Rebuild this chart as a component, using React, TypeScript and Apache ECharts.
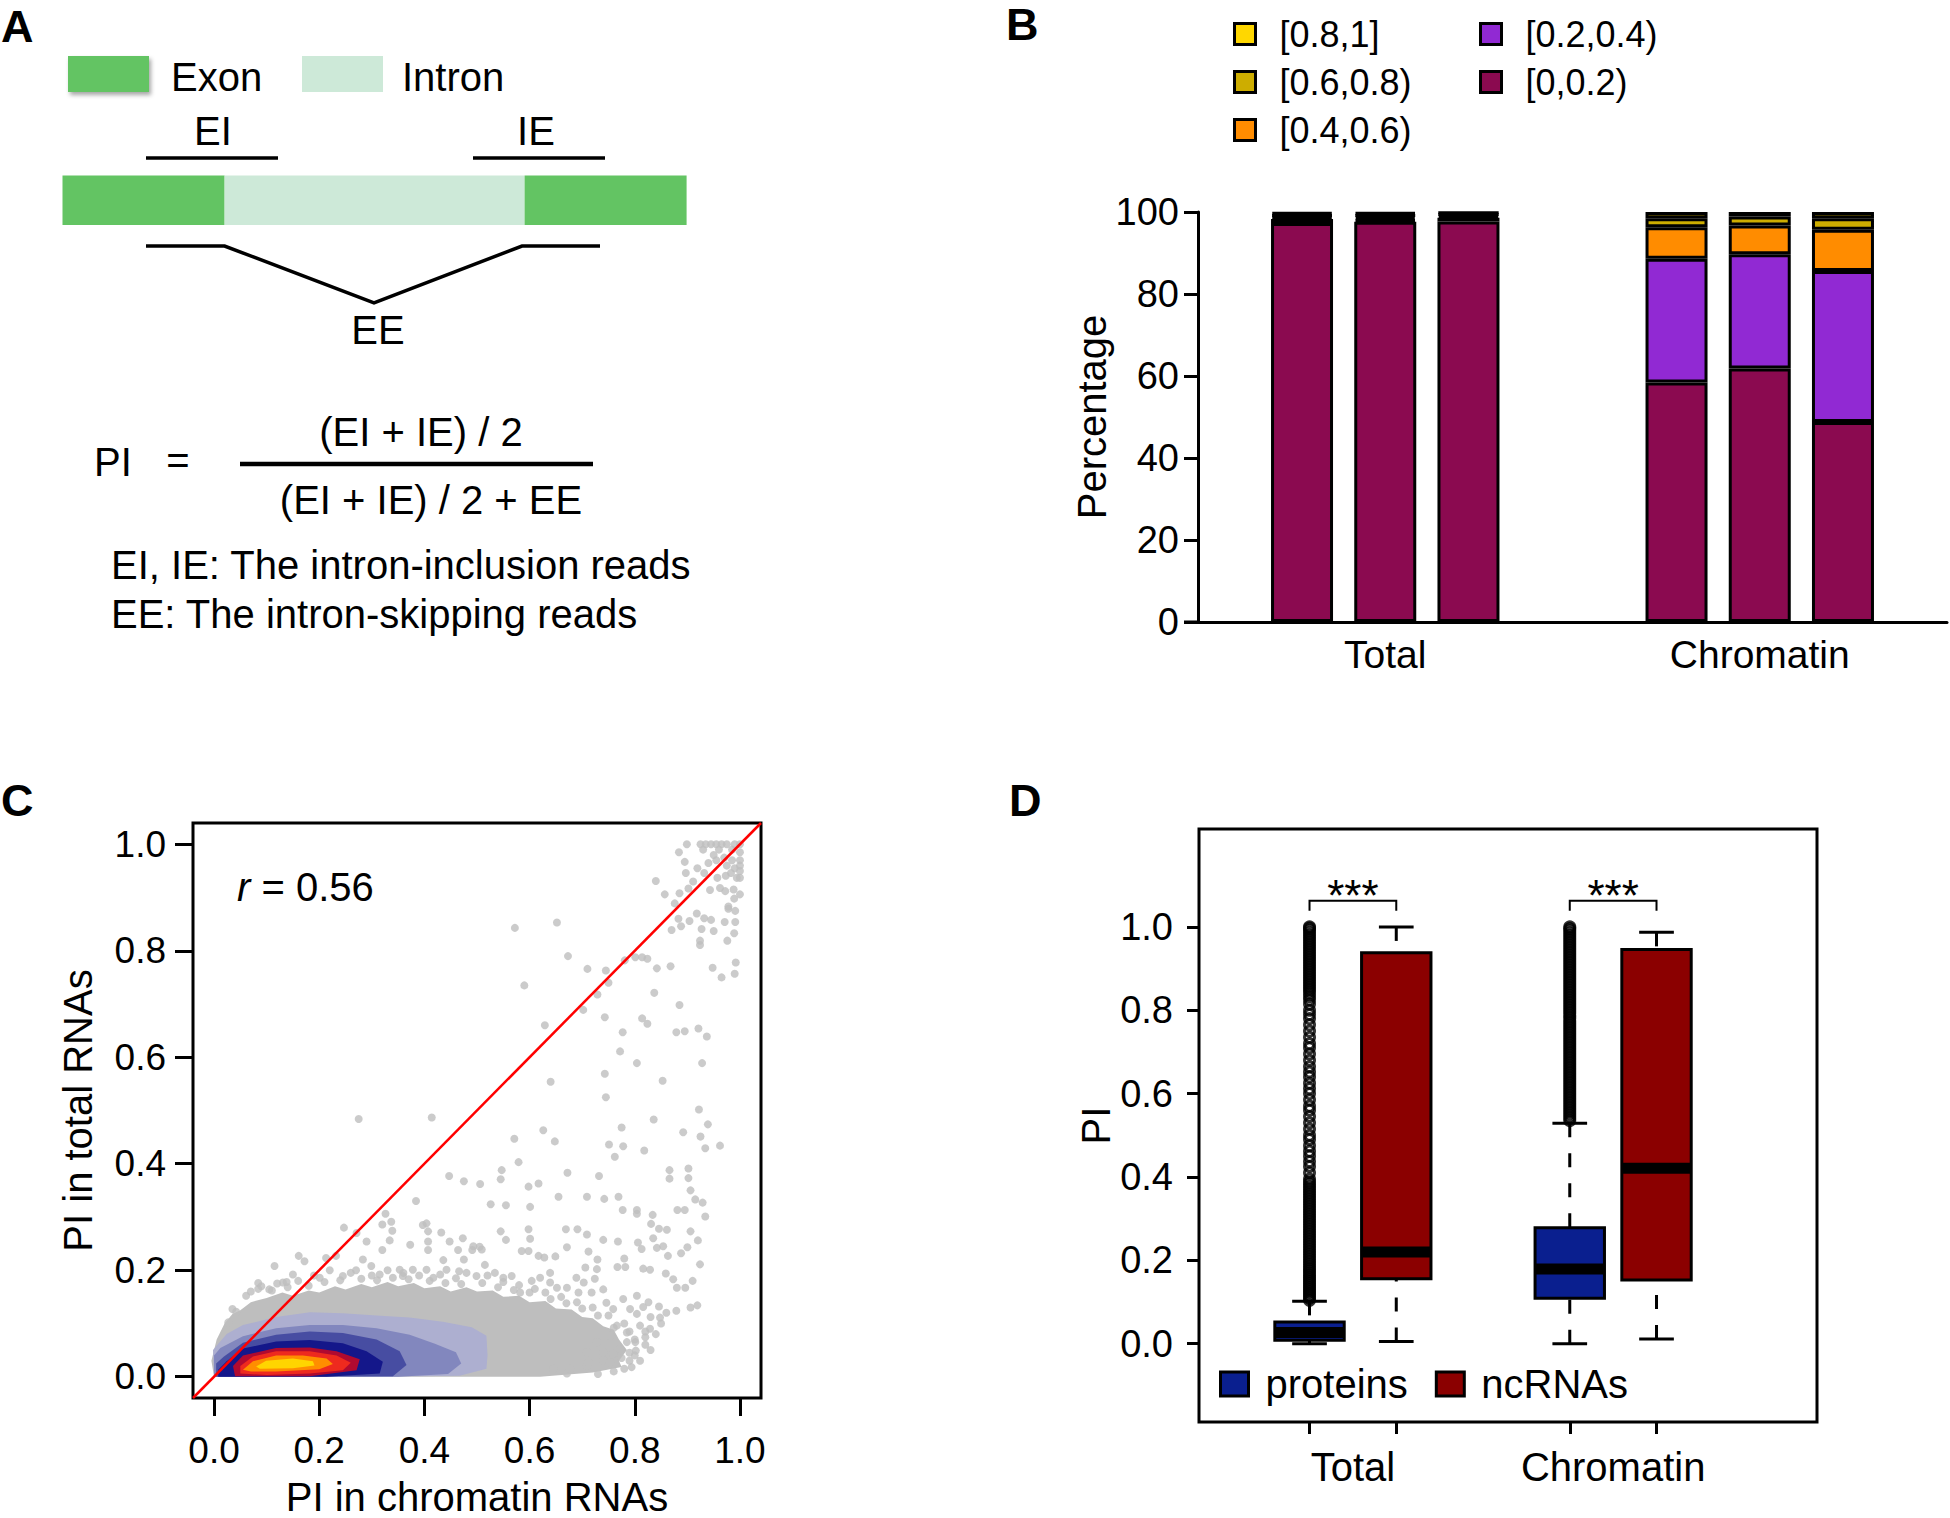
import React, { useEffect, useRef } from 'react';
import * as echarts from 'echarts';

const FONT = "'Liberation Sans', Arial, Helvetica, sans-serif";

// ---------------- Panel B data ----------------
const binNames = ['[0,0.2)', '[0.2,0.4)', '[0.4,0.6)', '[0.6,0.8)', '[0.8,1]'];
// bar slots on a fine category axis (Total x3, gap, Chromatin x3)
const barSlots = [5, 9, 13, 23, 27, 31];
const slotCountB = 37;
const groupNamesB = ['Total', 'Chromatin'];
const groupLabelSlotsB = [9, 27];
const bin00_02 = [97.3, 97.6, 97.7, 58.4, 61.8, 48.8];
const bin02_04 = [1.0, 0.6, 0.9, 30.2, 27.9, 36.8];
const bin04_06 = [0.6, 0.7, 0.6, 7.7, 7.0, 10.1];
const bin06_08 = [0.5, 0.5, 0.4, 2.2, 2.2, 2.8];
const bin08_10 = [0.6, 0.6, 0.4, 1.5, 1.1, 1.5];
const binValues = [bin00_02, bin02_04, bin04_06, bin06_08, bin08_10];
const legendCol1 = ['[0.8,1]', '[0.6,0.8)', '[0.4,0.6)'];
const legendCol2 = ['[0.2,0.4)', '[0,0.2)'];

// ---------------- Panel C data ----------------
const unitTicks = [0, 0.2, 0.4, 0.6, 0.8, 1.0];
const diagonal = [[-0.04, -0.04], [1.04, 1.04]];
const greyCloud = [
  [0.0, 0.0], [-0.005, 0.03], [0.005, 0.07], [0.02, 0.1], [0.035, 0.118], [0.05, 0.125], [0.07, 0.14], [0.1, 0.148],
  [0.13, 0.158], [0.15, 0.152], [0.18, 0.162], [0.2, 0.158], [0.23, 0.17], [0.25, 0.164], [0.28, 0.174], [0.3, 0.168],
  [0.33, 0.178], [0.35, 0.17], [0.38, 0.176], [0.4, 0.166], [0.43, 0.17], [0.45, 0.16], [0.48, 0.168], [0.5, 0.16],
  [0.53, 0.162], [0.55, 0.15], [0.58, 0.152], [0.6, 0.14], [0.63, 0.142], [0.65, 0.128], [0.68, 0.126], [0.7, 0.112],
  [0.72, 0.11], [0.74, 0.095], [0.76, 0.088], [0.77, 0.07], [0.785, 0.05], [0.77, 0.03], [0.775, 0.018], [0.72, 0.008],
  [0.62, 0.0],
];
const densityL1 = [[0.0, 0.0], [-0.002, 0.05], [0.024, 0.08], [0.055, 0.097], [0.118, 0.112], [0.182, 0.121], [0.245, 0.119], [0.309, 0.115], [0.372, 0.111], [0.435, 0.103], [0.49, 0.093], [0.518, 0.077], [0.52, 0.04], [0.518, 0.015], [0.467, 0.002], [0.3, 0.0]];
const densityL2 = [[0.0, 0.0], [0.0, 0.04], [0.012, 0.054], [0.055, 0.076], [0.118, 0.091], [0.182, 0.097], [0.245, 0.097], [0.309, 0.091], [0.372, 0.079], [0.42, 0.062], [0.46, 0.046], [0.47, 0.025], [0.445, 0.005], [0.35, 0.0]];
const densityL3 = [[0.004, 0.0], [0.004, 0.025], [0.019, 0.038], [0.055, 0.064], [0.118, 0.079], [0.182, 0.085], [0.245, 0.082], [0.309, 0.07], [0.353, 0.048], [0.366, 0.022], [0.34, 0.001]];
const densityL4 = [[0.008, 0.0], [0.008, 0.013], [0.024, 0.029], [0.055, 0.053], [0.118, 0.066], [0.182, 0.069], [0.245, 0.063], [0.29, 0.048], [0.321, 0.028], [0.315, 0.006], [0.214, 0.0]];
const densityL5 = [[0.04, 0.001], [0.036, 0.02], [0.055, 0.04], [0.118, 0.054], [0.182, 0.055], [0.233, 0.048], [0.277, 0.033], [0.271, 0.012], [0.182, 0.001]];
const densityL6 = [[0.05, 0.006], [0.05, 0.02], [0.074, 0.038], [0.118, 0.048], [0.182, 0.048], [0.233, 0.04], [0.26, 0.026], [0.245, 0.012], [0.182, 0.006], [0.1, 0.003]];
const densityL7 = [[0.055, 0.013], [0.074, 0.029], [0.118, 0.04], [0.169, 0.04], [0.214, 0.034], [0.226, 0.024], [0.2, 0.014], [0.118, 0.01], [0.07, 0.01]];
const densityL8 = [[0.08, 0.019], [0.099, 0.03], [0.15, 0.034], [0.188, 0.029], [0.191, 0.021], [0.15, 0.016], [0.087, 0.015]];
const densityLayers = [densityL1, densityL2, densityL3, densityL4, densityL5, densityL6, densityL7, densityL8];
const densityColors = ['#ADAFD0', '#8287BE', '#474DA2', '#14178A', '#B00A30', '#EE2A1E', '#FF8E00', '#FFD500'];
const cloudEdgePoints = [
  [0.07, 0.16], [0.09, 0.17], [0.12, 0.175], [0.16, 0.18], [0.19, 0.19], [0.22, 0.2], [0.26, 0.195], [0.27, 0.2],
  [0.3, 0.19], [0.33, 0.2], [0.36, 0.195], [0.39, 0.19], [0.43, 0.192], [0.46, 0.185], [0.48, 0.195], [0.52, 0.19],
  [0.55, 0.178], [0.58, 0.172], [0.61, 0.165], [0.63, 0.158], [0.66, 0.15], [0.69, 0.14], [0.72, 0.13], [0.75, 0.115],
  [0.78, 0.1], [0.79, 0.085], [0.8, 0.07], [0.8, 0.04], [0.79, 0.03], [0.78, 0.015], [0.76, 0.01], [0.73, 0.005],
  [0.11, 0.162], [0.14, 0.168], [0.18, 0.171], [0.21, 0.178], [0.24, 0.181], [0.28, 0.184], [0.31, 0.181], [0.34, 0.186],
  [0.37, 0.183], [0.41, 0.18], [0.44, 0.176], [0.47, 0.174], [0.51, 0.176], [0.54, 0.168], [0.57, 0.163], [0.6, 0.158],
  [0.64, 0.146], [0.67, 0.138], [0.7, 0.128], [0.73, 0.115], [0.76, 0.092], [0.785, 0.065], [0.79, 0.045], [0.775, 0.035],
  [0.82, 0.06], [0.83, 0.05], [0.84, 0.08], [0.85, 0.1], [0.83, 0.112], [0.81, 0.03], [0.86, 0.12], [0.82, 0.085],
];
const greyPoints = [
  [0.572, 0.843], [0.652, 0.853], [0.673, 0.79], [0.59, 0.735], [0.71, 0.766], [0.745, 0.763], [0.75, 0.74], [0.729, 0.718],
  [0.702, 0.689], [0.629, 0.66], [0.743, 0.675], [0.64, 0.554], [0.743, 0.569], [0.745, 0.525], [0.772, 0.611], [0.777, 0.647],
  [0.804, 0.589], [0.814, 0.673], [0.824, 0.663], [0.837, 0.721], [0.842, 0.767], [0.853, 0.556], [0.868, 0.771], [0.885, 0.698],
  [0.879, 0.647], [0.895, 0.649], [0.921, 0.654], [0.937, 0.639], [0.928, 0.589], [0.922, 0.502], [0.781, 0.782], [0.801, 0.788],
  [0.814, 0.788], [0.824, 0.785], [0.948, 0.768], [0.965, 0.75], [0.99, 0.757], [0.992, 0.778], [0.87, 0.839], [0.888, 0.846],
  [0.904, 0.856], [0.918, 0.87], [0.932, 0.861], [0.945, 0.858], [0.927, 0.841], [0.95, 0.837], [0.971, 0.854], [0.991, 0.854],
  [0.991, 0.875], [0.978, 0.879], [0.976, 0.819], [0.989, 0.833], [0.924, 0.819], [0.924, 0.811], [0.883, 0.86], [0.876, 0.889],
  [0.857, 0.906], [0.84, 0.931], [0.885, 0.908], [0.902, 0.917], [0.911, 0.93], [0.897, 0.946], [0.895, 0.967], [0.884, 0.985],
  [0.899, 1.0], [0.919, 0.955], [0.932, 0.946], [0.943, 0.914], [0.957, 0.937], [0.962, 0.918], [0.973, 0.941], [0.983, 0.946],
  [0.994, 0.937], [1.0, 0.937], [0.972, 0.912], [0.988, 0.915], [0.989, 0.898], [1.0, 0.906], [0.978, 0.883],
  [0.925, 1.0], [0.935, 1.0], [0.945, 1.0], [0.955, 1.0], [0.965, 1.0], [0.975, 1.0], [0.93, 0.99], [0.96, 0.99], [0.985, 0.99],
  [1.0, 1.0], [0.99, 1.0], [0.95, 0.98], [0.97, 0.975], [0.985, 0.97], [1.0, 0.985], [1.0, 0.97], [1.0, 0.96], [0.99, 0.955],
  [1.0, 0.95], [0.94, 0.965], [0.975, 0.96], [0.955, 0.97],
  [0.836, 0.483], [0.939, 0.474], [0.775, 0.468], [0.626, 0.463], [0.571, 0.447], [0.648, 0.442], [0.892, 0.459], [0.925, 0.451],
  [0.934, 0.429], [0.962, 0.434], [0.751, 0.436], [0.778, 0.433], [0.818, 0.425], [0.762, 0.413], [0.579, 0.403], [0.547, 0.388],
  [0.545, 0.371], [0.672, 0.383], [0.732, 0.377], [0.866, 0.388], [0.866, 0.372], [0.902, 0.391], [0.902, 0.373], [0.506, 0.362],
  [0.598, 0.357], [0.617, 0.363], [0.906, 0.35], [0.655, 0.338], [0.709, 0.338], [0.742, 0.334], [0.769, 0.338], [0.526, 0.324],
  [0.555, 0.322], [0.601, 0.319], [0.915, 0.333], [0.929, 0.327], [0.777, 0.313], [0.804, 0.313], [0.804, 0.306], [0.881, 0.313],
  [0.895, 0.313], [0.834, 0.304], [0.934, 0.301], [0.831, 0.287], [0.846, 0.278], [0.861, 0.276], [0.545, 0.273], [0.555, 0.257],
  [0.598, 0.277], [0.601, 0.259], [0.669, 0.277], [0.691, 0.277], [0.709, 0.267], [0.74, 0.257], [0.768, 0.254], [0.806, 0.252],
  [0.813, 0.24], [0.835, 0.26], [0.842, 0.242], [0.854, 0.245], [0.863, 0.227], [0.888, 0.232], [0.9, 0.243], [0.906, 0.273],
  [0.92, 0.256], [0.493, 0.245], [0.509, 0.239], [0.585, 0.236], [0.598, 0.236], [0.617, 0.227], [0.628, 0.224], [0.649, 0.226],
  [0.671, 0.243], [0.712, 0.235], [0.729, 0.22], [0.78, 0.222], [0.767, 0.206], [0.782, 0.206], [0.816, 0.203], [0.829, 0.201],
  [0.859, 0.194], [0.873, 0.183], [0.88, 0.167], [0.896, 0.167], [0.91, 0.18], [0.924, 0.211], [0.879, 0.124], [0.906, 0.13],
  [0.919, 0.134], [0.846, 0.132], [0.848, 0.111], [0.794, 0.018], [0.671, 0.006], [0.829, 0.09], [0.82, 0.074], [0.802, 0.049],
  [0.74, 0.031], [0.709, 0.021], [0.772, 0.052], [0.759, 0.043],
  [0.515, 0.21], [0.534, 0.195], [0.55, 0.186], [0.566, 0.189], [0.582, 0.158], [0.604, 0.18], [0.62, 0.186], [0.639, 0.195],
  [0.639, 0.177], [0.652, 0.167], [0.671, 0.167], [0.689, 0.186], [0.693, 0.158], [0.706, 0.205], [0.703, 0.177], [0.718, 0.158],
  [0.728, 0.202], [0.724, 0.184], [0.74, 0.164], [0.746, 0.139], [0.759, 0.127], [0.778, 0.146], [0.791, 0.127], [0.804, 0.152],
  [0.804, 0.118], [0.816, 0.131], [0.826, 0.14], [0.81, 0.096], [0.785, 0.083], [0.801, 0.065], [0.766, 0.096], [0.753, 0.077],
  [0.728, 0.065], [0.709, 0.046], [0.74, 0.046], [0.753, 0.027], [0.712, 0.027], [0.677, 0.015], [0.645, 0.015],
  [0.275, 0.484], [0.414, 0.487], [0.447, 0.377], [0.475, 0.367], [0.384, 0.33], [0.326, 0.306], [0.32, 0.286], [0.337, 0.291],
  [0.339, 0.274], [0.397, 0.285], [0.404, 0.288], [0.407, 0.273], [0.432, 0.271], [0.448, 0.254], [0.473, 0.26], [0.247, 0.28],
  [0.271, 0.27], [0.29, 0.254], [0.32, 0.238], [0.334, 0.256], [0.373, 0.248], [0.407, 0.254], [0.407, 0.238], [0.464, 0.238],
  [0.475, 0.22], [0.491, 0.238], [0.505, 0.244], [0.232, 0.227], [0.213, 0.223], [0.161, 0.227], [0.172, 0.217], [0.115, 0.208],
  [0.084, 0.176], [0.084, 0.165], [0.042, 0.122], [0.283, 0.22], [0.299, 0.208], [0.378, 0.201], [0.404, 0.201], [0.436, 0.219],
  [0.442, 0.201], [0.466, 0.198], [0.353, 0.201], [0.359, 0.189], [0.15, 0.192], [0.138, 0.178], [0.027, 0.102], [0.035, 0.127],
  [0.061, 0.152], [0.105, 0.164], [0.131, 0.177], [0.201, 0.186], [0.245, 0.189], [0.315, 0.192], [0.417, 0.186], [0.499, 0.189],
];

// ---------------- Panel D data ----------------
const groupNamesD = ['Total', 'Chromatin'];
const groupLabelPosD = [1.5, 4.5];
const boxPositions = [1, 2, 4, 5];
const yTicksD = [0, 0.2, 0.4, 0.6, 0.8, 1.0];
// [position, lowerWhisker, Q1, median, Q3, upperWhisker]
const proteinBoxes = [[1, 0.0, 0.008, 0.027, 0.052, 0.1015], [4, 0.0, 0.109, 0.179, 0.278, 0.529]];
const ncRNABoxes = [[2, 0.005, 0.156, 0.22, 0.938, 1.0], [5, 0.011, 0.153, 0.421, 0.946, 0.987]];
const proteinTotalOutliers = [
  0.104, 0.109, 0.114, 0.119, 0.124, 0.129, 0.134, 0.139, 0.144, 0.149, 0.154, 0.159, 0.164, 0.169, 0.174, 0.179, 0.184, 0.19,
  0.196, 0.202, 0.208, 0.214, 0.22, 0.226, 0.232, 0.238, 0.244, 0.25, 0.256, 0.262, 0.268, 0.274, 0.28, 0.286, 0.292, 0.298,
  0.304, 0.31, 0.316, 0.322, 0.328, 0.334, 0.34, 0.346, 0.352, 0.358, 0.364, 0.37, 0.376, 0.382, 0.388, 0.395, 0.41, 0.425,
  0.437, 0.45, 0.462, 0.475, 0.49, 0.5, 0.515, 0.53, 0.545, 0.56, 0.57, 0.585, 0.6, 0.612, 0.625, 0.64, 0.652, 0.665, 0.68,
  0.695, 0.71, 0.72, 0.735, 0.75, 0.765, 0.78, 0.79, 0.8, 0.815, 0.825, 0.833, 0.841, 0.848, 0.854, 0.86, 0.866, 0.872, 0.878,
  0.884, 0.89, 0.896, 0.902, 0.908, 0.914, 0.92, 0.926, 0.932, 0.938, 0.944, 0.95, 0.956, 0.962, 0.968, 0.974, 0.98, 0.986,
  0.992, 0.997, 1.0,
];
const proteinChromatinOutliers = [
  0.535, 0.541, 0.547, 0.553, 0.559, 0.565, 0.571, 0.577, 0.583, 0.589, 0.595, 0.601, 0.607, 0.613, 0.619, 0.625, 0.631, 0.637,
  0.643, 0.649, 0.655, 0.661, 0.667, 0.673, 0.679, 0.685, 0.691, 0.697, 0.703, 0.709, 0.715, 0.721, 0.727, 0.733, 0.739, 0.745,
  0.751, 0.757, 0.763, 0.769, 0.775, 0.781, 0.787, 0.793, 0.799, 0.805, 0.811, 0.817, 0.823, 0.829, 0.835, 0.841, 0.847, 0.853,
  0.859, 0.865, 0.871, 0.877, 0.883, 0.889, 0.895, 0.901, 0.907, 0.913, 0.919, 0.925, 0.931, 0.937, 0.943, 0.949, 0.955, 0.961,
  0.967, 0.973, 0.979, 0.985, 0.991, 0.996, 1.0,
];
const sigBrackets = [[1, 2, 1.063], [4, 5, 1.063]];

const binColors = ['#8B0A50', '#9129D3', '#FF8C00', '#CDAD00', '#FFD700'];
const proteinColor = '#0A1F8F';
const ncRNAColor = '#8B0000';
const green = '#63C463';
const lightGreen = '#CDE9D8';

function txt(text: string, x: number, y: number, extra: any = {}) {
  return {
    type: 'text', x, y, z: 10,
    style: { text, fontSize: 40, fontFamily: FONT, fill: '#000', align: 'left', verticalAlign: 'middle', ...extra },
  };
}
function ln(x1: number, y1: number, x2: number, y2: number, w: number) {
  return { type: 'line', z: 10, shape: { x1, y1, x2, y2 }, style: { stroke: '#000', lineWidth: w } };
}

const renderBox = (fill: string) => (params: any, api: any) => {
  const x = api.value(0), lo = api.value(1), q1 = api.value(2), med = api.value(3), q3 = api.value(4), hi = api.value(5);
  const bw = 0.4, cw = 0.2;
  const c = (xx: number, yy: number) => api.coord([xx, yy]);
  const L = c(x - bw, q3);
  const R = c(x + bw, q1);
  const seg = (a: number[], b: number[], style: any) => ({ type: 'line', shape: { x1: a[0], y1: a[1], x2: b[0], y2: b[1] }, style });
  const dash = { stroke: '#000', lineWidth: 3, lineDash: [14, 16] };
  const solid = { stroke: '#000', lineWidth: 3 };
  return {
    type: 'group',
    children: [
      seg(c(x, hi), c(x, q3), dash),
      seg(c(x, lo), c(x, q1), dash),
      seg(c(x - cw, hi), c(x + cw, hi), solid),
      seg(c(x - cw, lo), c(x + cw, lo), solid),
      { type: 'rect', shape: { x: L[0], y: L[1], width: R[0] - L[0], height: R[1] - L[1] }, style: { fill, stroke: '#000', lineWidth: 3 } },
      seg(c(x - bw, med), c(x + bw, med), { stroke: '#000', lineWidth: 11 }),
    ],
  };
};

function buildOption(): any {
  const axisBlack = { color: '#000' };
  const categoriesB = Array.from({ length: slotCountB }, (_, i) => String(i));
  const graphic: any[] = [
    txt('A', 1, 26, { fontSize: 45, fontWeight: 'bold' }),
    txt('B', 1006, 24, { fontSize: 45, fontWeight: 'bold' }),
    txt('C', 1, 800, { fontSize: 45, fontWeight: 'bold' }),
    txt('D', 1009, 800, { fontSize: 45, fontWeight: 'bold' }),
    { type: 'rect', z: 10, shape: { x: 68, y: 56, width: 81, height: 36 }, style: { fill: green, shadowBlur: 4, shadowOffsetX: 2, shadowOffsetY: 3, shadowColor: 'rgba(0,0,0,0.35)' } },
    txt('Exon', 171, 77),
    { type: 'rect', z: 10, shape: { x: 302, y: 56, width: 81, height: 36 }, style: { fill: lightGreen } },
    txt('Intron', 402, 77),
    txt('EI', 213, 131, { align: 'center' }),
    ln(146, 158, 278, 158, 3.5),
    txt('IE', 536, 131, { align: 'center' }),
    ln(473, 158, 605, 158, 3.5),
    { type: 'rect', z: 10, shape: { x: 62.5, y: 175.5, width: 162.1, height: 49.5 }, style: { fill: green } },
    { type: 'rect', z: 10, shape: { x: 224.6, y: 175.5, width: 300, height: 49.5 }, style: { fill: lightGreen } },
    { type: 'rect', z: 10, shape: { x: 524.6, y: 175.5, width: 162, height: 49.5 }, style: { fill: green } },
    { type: 'polyline', z: 10, shape: { points: [[146, 246], [224.6, 246], [374, 303], [522, 246], [600, 246]] }, style: { stroke: '#000', lineWidth: 3.5, fill: null } },
    txt('EE', 378, 330, { align: 'center' }),
    txt('PI', 94, 462),
    txt('=', 178, 460, { align: 'center' }),
    txt('(EI + IE) / 2', 421, 432, { align: 'center' }),
    ln(240, 464, 593, 464, 4.5),
    txt('(EI + IE) / 2 + EE', 431, 500, { align: 'center' }),
    txt('EI, IE: The intron-inclusion reads', 111, 565),
    txt('EE: The intron-skipping reads', 111, 614),
    ln(1184, 622, 1198, 622, 3),
    {
      type: 'text', x: 237, y: 887, z: 10,
      style: { text: '{i|r} = 0.56', fontSize: 40, fontFamily: FONT, fill: '#000', verticalAlign: 'middle', rich: { i: { fontStyle: 'italic', fontSize: 40, fontFamily: FONT } } },
    },
  ];

  const barSeries = binNames.map((name, k) => ({
    name, type: 'bar', stack: 'pi', xAxisIndex: 0, yAxisIndex: 0, barWidth: 62,
    itemStyle: { color: binColors[k], borderColor: '#000', borderWidth: 3 },
    data: barSlots.map((s, i) => [s, binValues[k][i]]),
  }));

  return {
    animation: false,
    backgroundColor: '#fff',
    textStyle: { fontFamily: FONT },
    graphic,
    legend: [
      { data: legendCol1, orient: 'vertical', left: 1228, top: 11, itemWidth: 21, itemHeight: 21, itemGap: 12, icon: 'rect', selectedMode: false,
        itemStyle: { borderColor: '#000', borderWidth: 3 }, textStyle: { fontSize: 36, color: '#000', padding: [0, 0, 0, 19] } },
      { data: legendCol2, orient: 'vertical', left: 1474, top: 11, itemWidth: 21, itemHeight: 21, itemGap: 12, icon: 'rect', selectedMode: false,
        itemStyle: { borderColor: '#000', borderWidth: 3 }, textStyle: { fontSize: 36, color: '#000', padding: [0, 0, 0, 19] } },
      { data: ['proteins', 'ncRNAs'], orient: 'horizontal', left: 1214, top: 1359, itemWidth: 28, itemHeight: 24, itemGap: 27, icon: 'rect', selectedMode: false,
        itemStyle: { borderColor: '#000', borderWidth: 3 }, textStyle: { fontSize: 40, color: '#000', padding: [0, 0, 0, 12] } },
    ],
    grid: [
      { left: 1198, top: 212, width: 752, height: 410 },
      { left: 193, top: 823, width: 568, height: 580, show: true, borderColor: '#000', borderWidth: 3, backgroundColor: 'transparent' },
      { left: 1199, top: 829, width: 618, height: 593, show: true, borderColor: '#000', borderWidth: 3, backgroundColor: 'transparent' },
    ],
    xAxis: [
      {
        type: 'category', gridIndex: 0, data: categoriesB, boundaryGap: false,
        axisLine: { show: true, onZero: false, lineStyle: { color: '#000', width: 3 } },
        axisTick: { show: false }, splitLine: { show: false },
        axisLabel: {
          interval: 0, fontSize: 39, margin: 13, ...axisBlack,
          formatter: (v: string, i: number) => { const k = groupLabelSlotsB.indexOf(i); return k >= 0 ? groupNamesB[k] : ''; },
        },
      },
      {
        type: 'value', gridIndex: 1, min: -0.04, max: 1.04,
        axisLine: { show: false, onZero: false },
        axisTick: { show: true, customValues: unitTicks, length: 18, lineStyle: { color: '#000', width: 3 } },
        splitLine: { show: false },
        axisLabel: { customValues: unitTicks, formatter: (v: number) => v.toFixed(1), fontSize: 37, margin: 34, ...axisBlack },
        name: 'PI in chromatin RNAs', nameLocation: 'middle', nameGap: 79, nameTextStyle: { fontSize: 40, color: '#000' },
      },
      {
        type: 'value', gridIndex: 2, min: -0.274, max: 6.85,
        axisLine: { show: false, onZero: false },
        axisTick: { show: true, customValues: boxPositions, length: 12, lineStyle: { color: '#000', width: 3 } },
        splitLine: { show: false },
        axisLabel: { customValues: groupLabelPosD, formatter: (v: number) => groupNamesD[groupLabelPosD.indexOf(v)] ?? '', fontSize: 40, margin: 25, ...axisBlack },
      },
    ],
    yAxis: [
      {
        type: 'value', gridIndex: 0, min: 0, max: 100, interval: 20,
        axisLine: { show: true, onZero: false, lineStyle: { color: '#000', width: 3 } },
        axisTick: { show: true, length: 14, lineStyle: { color: '#000', width: 3 } },
        splitLine: { show: false },
        axisLabel: { fontSize: 38, margin: 19, ...axisBlack },
        name: 'Percentage', nameLocation: 'middle', nameGap: 81, nameTextStyle: { fontSize: 40, color: '#000' },
      },
      {
        type: 'value', gridIndex: 1, min: -0.04, max: 1.04,
        axisLine: { show: false, onZero: false },
        axisTick: { show: true, customValues: unitTicks, length: 18, lineStyle: { color: '#000', width: 3 } },
        splitLine: { show: false },
        axisLabel: { customValues: unitTicks, formatter: (v: number) => v.toFixed(1), fontSize: 37, margin: 27, ...axisBlack },
        name: 'PI in total RNAs', nameLocation: 'middle', nameGap: 95, nameTextStyle: { fontSize: 40, color: '#000' },
      },
      {
        type: 'value', gridIndex: 2, min: -0.188, max: 1.235,
        axisLine: { show: false, onZero: false },
        axisTick: { show: true, customValues: yTicksD, length: 12, lineStyle: { color: '#000', width: 3 } },
        splitLine: { show: false },
        axisLabel: { customValues: yTicksD, formatter: (v: number) => v.toFixed(1), fontSize: 38, margin: 26, ...axisBlack },
        name: 'PI', nameLocation: 'middle', nameGap: 80, nameTextStyle: { fontSize: 40, color: '#000' },
      },
    ],
    series: [
      ...barSeries,
      {
        name: 'cloud', type: 'custom', xAxisIndex: 1, yAxisIndex: 1, z: 1, clip: true,
        data: [greyCloud[0]],
        renderItem: (params: any, api: any) => ({
          type: 'polygon', shape: { points: greyCloud.map((p) => api.coord(p)) }, style: { fill: '#BEBEBE' },
        }),
      },
      {
        name: 'points', type: 'scatter', xAxisIndex: 1, yAxisIndex: 1, z: 2,
        symbolSize: 8, itemStyle: { color: '#BEBEBE' }, data: [...greyPoints, ...cloudEdgePoints],
      },
      {
        name: 'density', type: 'custom', xAxisIndex: 1, yAxisIndex: 1, z: 3, clip: true,
        data: densityLayers.map((l) => l[0]),
        renderItem: (params: any, api: any) => ({
          type: 'polygon', shape: { points: densityLayers[params.dataIndex].map((p) => api.coord(p)) },
          style: { fill: densityColors[params.dataIndex] },
        }),
      },
      {
        name: 'y = x', type: 'line', xAxisIndex: 1, yAxisIndex: 1, z: 5, data: diagonal, symbol: 'none',
        lineStyle: { color: '#FF0000', width: 2.5 },
      },
      {
        name: 'proteins', type: 'custom', xAxisIndex: 2, yAxisIndex: 2, z: 2,
        itemStyle: { color: proteinColor },
        encode: { x: 0, y: [1, 2, 3, 4, 5] },
        data: proteinBoxes, renderItem: renderBox(proteinColor),
      },
      {
        name: 'ncRNAs', type: 'custom', xAxisIndex: 2, yAxisIndex: 2, z: 2,
        itemStyle: { color: ncRNAColor },
        encode: { x: 0, y: [1, 2, 3, 4, 5] },
        data: ncRNABoxes, renderItem: renderBox(ncRNAColor),
      },
      {
        name: 'outliers', type: 'scatter', xAxisIndex: 2, yAxisIndex: 2, z: 3,
        symbol: 'circle', symbolSize: 10,
        itemStyle: { color: 'rgba(0,0,0,0)', borderColor: '#000', borderWidth: 3 },
        data: [
          ...proteinTotalOutliers.map((v) => [boxPositions[0], v]),
          ...proteinChromatinOutliers.map((v) => [boxPositions[2], v]),
        ],
      },
      {
        name: 'significance', type: 'custom', xAxisIndex: 2, yAxisIndex: 2, z: 4,
        encode: { x: [0, 1], y: 2 },
        data: sigBrackets,
        renderItem: (params: any, api: any) => {
          const a = api.coord([api.value(0), api.value(2)]);
          const b = api.coord([api.value(1), api.value(2)]);
          return {
            type: 'group',
            children: [
              { type: 'polyline', shape: { points: [[a[0], a[1] + 10], [a[0], a[1]], [b[0], b[1]], [b[0], b[1] + 10]] }, style: { stroke: '#000', lineWidth: 2, fill: null } },
              { type: 'text', x: (a[0] + b[0]) / 2, y: a[1] - 5, style: { text: '***', fontSize: 44, fontFamily: FONT, fill: '#000', align: 'center', verticalAlign: 'middle' } },
            ],
          };
        },
      },
    ],
  };
}

export default function App() {
  const ref = useRef<HTMLDivElement>(null);
  useEffect(() => {
    const chart = echarts.init(ref.current as HTMLDivElement, null, { renderer: 'svg' });
    chart.setOption(buildOption());
    return () => chart.dispose();
  }, []);
  return <div ref={ref} style={{ position: 'absolute', left: 0, top: 0, width: 1950, height: 1518, background: '#fff' }} />;
}
